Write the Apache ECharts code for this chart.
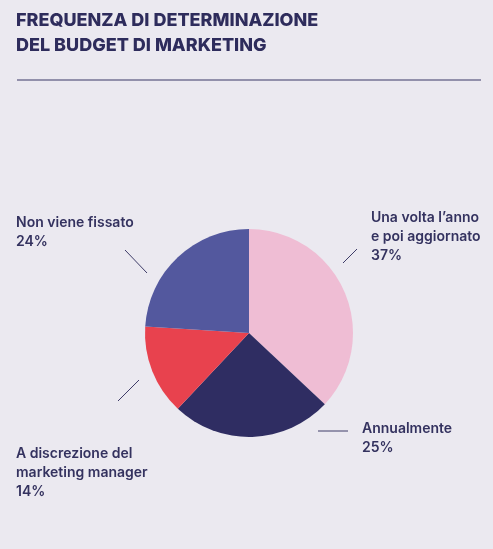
<!DOCTYPE html>
<html><head><meta charset="utf-8">
<script src="https://cdn.jsdelivr.net/npm/echarts@6/dist/echarts.min.js"></script>
<style>html,body{margin:0;padding:0;background:#ebe9f0;}#c{width:493px;height:549px;}</style>
</head><body><div id="c"></div>
<script>
const categories = ["Una volta l’anno\ne poi aggiornato", "Annualmente", "A discrezione del\nmarketing manager", "Non viene fissato"];
const values = [37, 25, 14, 24];
const colors = ["#efbdd4", "#2f2d62", "#e8424e", "#53589e"];

// label placement (text top-left) and detached leader tick endpoints, per slice
const labelPos = [[371, 208], [362, 419], [16, 444], [16, 213]];
const tickPos = [[[343, 263], [357, 249]], [[318, 431], [348, 431]], [[118, 401], [139, 380]], [[125, 250], [147, 273]]];

const chart = echarts.init(document.getElementById('c'), null, {renderer: 'canvas'});
const font = 'Inter, "Noto Sans", sans-serif';
chart.setOption({
  backgroundColor: '#ebe9f0',
  animation: false,
  title: {
    text: 'FREQUENZA DI DETERMINAZIONE\nDEL BUDGET DI MARKETING',
    left: 11, top: 3,
    textStyle: {fontFamily: font, fontSize: 18, fontWeight: 800, color: '#2e2c5c', lineHeight: 25}
  },
  graphic: [{
    type: 'line', shape: {x1: 17, y1: 80, x2: 481, y2: 80},
    style: {stroke: '#3a3866', lineWidth: 1.2}
  }],
  series: [{
    type: 'pie',
    center: [249, 333],
    radius: [0, 104],
    startAngle: 90,
    clockwise: true,
    data: categories.map((n, i) => ({name: n, value: values[i], itemStyle: {color: colors[i]}})),
    label: {
      show: true,
      formatter: p => p.name + '\n' + p.value + '%',
      fontFamily: font, fontSize: 14, fontWeight: 600, color: '#34325f', lineHeight: 19, align: 'left',
      overflow: 'none', width: 200
    },
    labelLine: {show: true, lineStyle: {color: '#3e3c68', width: 1}},
    labelLayout: function (p) {
      const i = p.dataIndex;
      const t = tickPos[i];
      return {
        x: labelPos[i][0], y: labelPos[i][1],
        align: 'left', verticalAlign: 'top',
        labelLinePoints: [t[0], t[0], t[1]]
      };
    }
  }]
});
</script></body></html>
